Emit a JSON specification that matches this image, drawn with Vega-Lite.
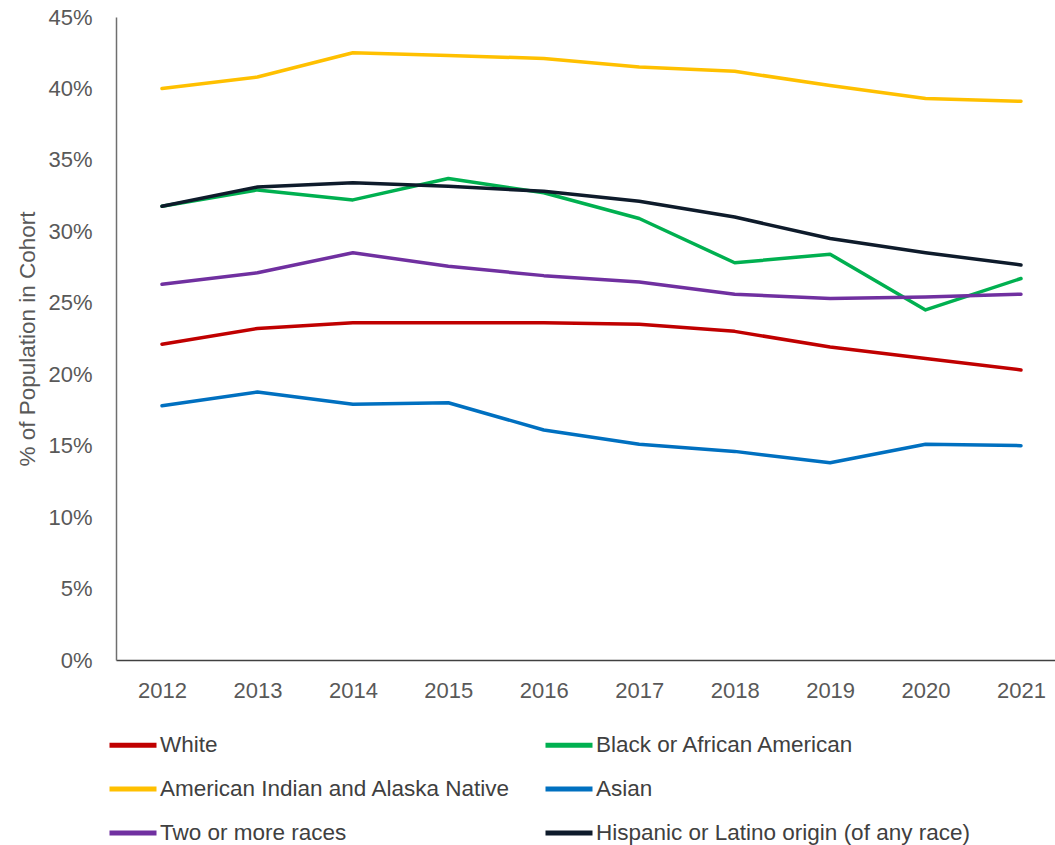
{
  "$schema": "https://vega.github.io/schema/vega-lite/v6.json",
  "width": 951,
  "height": 643,
  "autosize": {"type": "none"},
  "padding": {"left": 116, "top": 17, "right": 0, "bottom": 190},
  "background": "white",
  "config": {
    "view": {"stroke": null},
    "font": "Liberation Sans",
    "axis": {"labelFont": "Liberation Sans", "titleFont": "Liberation Sans", "labelColor": "#595959", "titleColor": "#595959"}
  },
  "data": {
    "values": [
      {"year": "2012", "group": "White", "pct": 22.1},
      {"year": "2013", "group": "White", "pct": 23.2},
      {"year": "2014", "group": "White", "pct": 23.6},
      {"year": "2015", "group": "White", "pct": 23.6},
      {"year": "2016", "group": "White", "pct": 23.6},
      {"year": "2017", "group": "White", "pct": 23.5},
      {"year": "2018", "group": "White", "pct": 23.0},
      {"year": "2019", "group": "White", "pct": 21.9},
      {"year": "2020", "group": "White", "pct": 21.1},
      {"year": "2021", "group": "White", "pct": 20.3},
      {"year": "2012", "group": "Black or African American", "pct": 31.75},
      {"year": "2013", "group": "Black or African American", "pct": 32.9},
      {"year": "2014", "group": "Black or African American", "pct": 32.2},
      {"year": "2015", "group": "Black or African American", "pct": 33.7},
      {"year": "2016", "group": "Black or African American", "pct": 32.7},
      {"year": "2017", "group": "Black or African American", "pct": 30.9},
      {"year": "2018", "group": "Black or African American", "pct": 27.8},
      {"year": "2019", "group": "Black or African American", "pct": 28.4},
      {"year": "2020", "group": "Black or African American", "pct": 24.5},
      {"year": "2021", "group": "Black or African American", "pct": 26.7},
      {"year": "2012", "group": "American Indian and Alaska Native", "pct": 40.0},
      {"year": "2013", "group": "American Indian and Alaska Native", "pct": 40.8},
      {"year": "2014", "group": "American Indian and Alaska Native", "pct": 42.5},
      {"year": "2015", "group": "American Indian and Alaska Native", "pct": 42.3},
      {"year": "2016", "group": "American Indian and Alaska Native", "pct": 42.1},
      {"year": "2017", "group": "American Indian and Alaska Native", "pct": 41.5},
      {"year": "2018", "group": "American Indian and Alaska Native", "pct": 41.2},
      {"year": "2019", "group": "American Indian and Alaska Native", "pct": 40.2},
      {"year": "2020", "group": "American Indian and Alaska Native", "pct": 39.3},
      {"year": "2021", "group": "American Indian and Alaska Native", "pct": 39.1},
      {"year": "2012", "group": "Asian", "pct": 17.8},
      {"year": "2013", "group": "Asian", "pct": 18.75},
      {"year": "2014", "group": "Asian", "pct": 17.9},
      {"year": "2015", "group": "Asian", "pct": 18.0},
      {"year": "2016", "group": "Asian", "pct": 16.1},
      {"year": "2017", "group": "Asian", "pct": 15.1},
      {"year": "2018", "group": "Asian", "pct": 14.6},
      {"year": "2019", "group": "Asian", "pct": 13.8},
      {"year": "2020", "group": "Asian", "pct": 15.1},
      {"year": "2021", "group": "Asian", "pct": 15.0},
      {"year": "2012", "group": "Two or more races", "pct": 26.3},
      {"year": "2013", "group": "Two or more races", "pct": 27.1},
      {"year": "2014", "group": "Two or more races", "pct": 28.5},
      {"year": "2015", "group": "Two or more races", "pct": 27.55},
      {"year": "2016", "group": "Two or more races", "pct": 26.9},
      {"year": "2017", "group": "Two or more races", "pct": 26.45},
      {"year": "2018", "group": "Two or more races", "pct": 25.6},
      {"year": "2019", "group": "Two or more races", "pct": 25.3},
      {"year": "2020", "group": "Two or more races", "pct": 25.4},
      {"year": "2021", "group": "Two or more races", "pct": 25.6},
      {"year": "2012", "group": "Hispanic or Latino origin (of any race)", "pct": 31.75},
      {"year": "2013", "group": "Hispanic or Latino origin (of any race)", "pct": 33.1},
      {"year": "2014", "group": "Hispanic or Latino origin (of any race)", "pct": 33.4},
      {"year": "2015", "group": "Hispanic or Latino origin (of any race)", "pct": 33.15},
      {"year": "2016", "group": "Hispanic or Latino origin (of any race)", "pct": 32.8},
      {"year": "2017", "group": "Hispanic or Latino origin (of any race)", "pct": 32.1},
      {"year": "2018", "group": "Hispanic or Latino origin (of any race)", "pct": 31.0},
      {"year": "2019", "group": "Hispanic or Latino origin (of any race)", "pct": 29.5},
      {"year": "2020", "group": "Hispanic or Latino origin (of any race)", "pct": 28.5},
      {"year": "2021", "group": "Hispanic or Latino origin (of any race)", "pct": 27.65}
    ]
  },
  "mark": {"type": "line", "strokeWidth": 3.5, "strokeJoin": "round", "strokeCap": "round"},
  "encoding": {
    "x": {
      "field": "year", "type": "ordinal",
      "scale": {"type": "point", "padding": 0.482},
      "axis": {"title": null, "labelAngle": 0, "labelFontSize": 22, "labelPadding": 20, "ticks": false, "domainColor": "#404040", "domainWidth": 1.5, "grid": false}
    },
    "y": {
      "field": "pct", "type": "quantitative",
      "scale": {"domain": [0, 45], "nice": false},
      "axis": {"title": "% of Population in Cohort", "values": [0, 5, 10, 15, 20, 25, 30, 35, 40, 45], "labelExpr": "datum.value + '%'", "labelFontSize": 22, "labelPadding": 24, "ticks": false, "grid": false, "domainColor": "#6f6f6f", "domainWidth": 1.5, "titleFontSize": 22.5, "titleFontWeight": "normal", "titlePadding": 8}
    },
    "color": {
      "field": "group", "type": "nominal",
      "scale": {
        "domain": ["White", "American Indian and Alaska Native", "Two or more races", "Black or African American", "Asian", "Hispanic or Latino origin (of any race)"],
        "range": ["#C00000", "#FFC000", "#7030A0", "#00B050", "#0070C0", "#0E1B2B"]
      },
      "legend": {
        "title": null, "orient": "none", "legendX": -9, "legendY": 702, "columns": 2,
        "symbolType": "stroke", "symbolSize": 2209, "symbolStrokeWidth": 5,
        "labelFontSize": 22.5, "labelColor": "#404040", "labelOffset": 1, "labelLimit": 500,
        "columnPadding": 24, "rowPadding": 6
      }
    }
  }
}
